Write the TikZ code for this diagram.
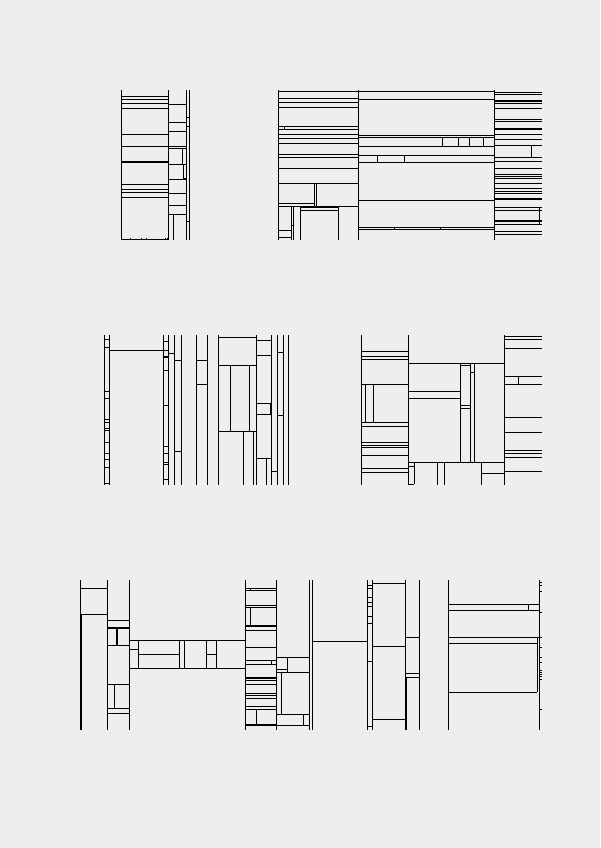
\documentclass[tikz,border=0pt]{standalone}
\usepackage{xcolor}
\usepackage{tikz}
\definecolor{pagebg}{RGB}{238,238,238}
\definecolor{inkline}{RGB}{0,0,0}
\tikzset{
  rule/.style={line width=0.9pt, color=inkline},
  heavy/.style={line width=1.6pt, color=inkline}
}
\begin{document}
\begin{tikzpicture}[x=1pt,y=-1pt]
  \fill[pagebg] (0,0) rectangle (600,848);
  \useasboundingbox (0,0) rectangle (600,848);

  % panel 1
  \foreach \x in {121.3,168.3,186,189} \draw[rule] (\x,90) -- (\x,240);
  \foreach \y in {96.3,99,103.3,108.3,134.3,146.3,189.3,192.3,197.3,239} \draw[rule] (121.3,\y) -- (168.3,\y);
  \foreach \y in {161.7,184.5} \draw[heavy] (121.3,\y) -- (168.3,\y);
  \foreach \x in {130.7,141,146.3,165.7,167.3} \draw[rule] (\x,237.5) -- (\x,239);
  \foreach \y in {104.3,122.3,131.3,146.3,148,164.3,179.3,193.3,205.3,214.3} \draw[rule] (168.3,\y) -- (186,\y);
  \draw[rule] (182.3,148) -- (182.3,164.3);
  \draw[rule] (183.3,164.3) -- (183.3,179.3);
  \draw[heavy] (183.3,179) -- (186,179);
  \draw[rule] (173.3,214.3) -- (173.3,240);
  \foreach \y in {117.3,126.3,221.3} \draw[rule] (186,\y) -- (189,\y);

  % panel 2
  \foreach \x in {278.3,358.3,494.3} \draw[rule] (\x,90) -- (\x,240);
  \foreach \y in {91,98.3,102.3,107.3,126.3,129.3,134.3,138.3,143.3,154.3,157.3,168.3,183.3,206.3} \draw[rule] (278.3,\y) -- (358.3,\y);
  \draw[rule] (284.3,126.3) -- (284.3,129.3);
  \foreach \x in {314.3,316.3} \draw[rule] (\x,183.3) -- (\x,206.3);
  \draw[rule] (278.3,203.3) -- (314.3,203.3);
  \foreach \x in {291.3,293} \draw[rule] (\x,206.3) -- (\x,240);
  \draw[rule] (291.3,225.3) -- (293,225.3);
  \foreach \y in {230.3,237.3} \draw[rule] (278.3,\y) -- (291.3,\y);
  \draw[rule] (300.3,207.3) -- (300.3,240);
  \foreach \y in {207.3,210.3} \draw[rule] (300.3,\y) -- (338.3,\y);
  \draw[rule] (338.3,206.3) -- (338.3,240);
  \foreach \y in {91,99.3,137.3,146.3,155.3,162.3,200.3,227.3,229.3} \draw[rule] (358.3,\y) -- (494.3,\y);
  \draw[heavy] (358.3,135.3) -- (494.3,135.3);
  \foreach \x in {377.3,404.3} \draw[rule] (\x,155.3) -- (\x,162.3);
  \foreach \x in {442.3,458.3,469.3,483.3} \draw[rule] (\x,137.3) -- (\x,146.3);
  \foreach \x in {394.3,440.7} \draw[rule] (\x,227.3) -- (\x,229.3);
  \foreach \y in {92.3,94.3,103.3,119.3,121,139.3,145.7,161,168.3,176.7,178.3,183.3,188.3,191.7,193.7,207.7,210,220,221.7,224.3,231.7,234.3} \draw[rule] (494.3,\y) -- (541.7,\y);
  \foreach \y in {101.3,108.7,129.3,134.3,157.3,174.3,198.7} \draw[heavy] (494.3,\y) -- (541.7,\y);
  \draw[rule] (531.3,145.7) -- (531.3,157.3);
  \draw[rule] (539.3,208) -- (539.3,224.3);

  % panel 3
  \foreach \x in {104.3,109.3} \draw[rule] (\x,335) -- (\x,484.5);
  \draw[rule] (109.3,350.3) -- (163.3,350.3);
  \foreach \y in {339.3,347.3,391.3,398.3,419.3,422,428,430.7,442.7,453.3,459.3,467.3,483.3} \draw[rule] (104.3,\y) -- (109.3,\y);
  \foreach \x in {163.3,168.3,174,181.3,196.3,207.3,218.3,256.3,271.3,277.3,283.3,288.7} \draw[rule] (\x,335) -- (\x,485);
  \foreach \y in {341.3,350.3,370.3,405.3,446.3,453.3,462.3,464,479.3} \draw[rule] (163.3,\y) -- (168.3,\y);
  \draw[heavy] (163.3,356.7) -- (168.3,356.7);
  \draw[rule] (168.3,353.3) -- (174,353.3);
  \foreach \y in {360.3,451.3} \draw[rule] (174,\y) -- (181.3,\y);
  \foreach \y in {360.3,384.3} \draw[rule] (196.3,\y) -- (207.3,\y);
  \foreach \y in {337.3,365.3,431.3} \draw[rule] (218.3,\y) -- (256.3,\y);
  \foreach \x in {230.3,249.3} \draw[rule] (\x,365.3) -- (\x,431.3);
  \foreach \x in {243.7,253.3} \draw[rule] (\x,431.3) -- (\x,485);
  \foreach \y in {340.3,355.3,403.3,414.3,458.3} \draw[rule] (256.3,\y) -- (271.3,\y);
  \draw[heavy] (270.5,403.3) -- (270.5,414.3);
  \draw[rule] (266.3,458.3) -- (266.3,485);
  \draw[rule] (271.3,471.3) -- (277.3,471.3);
  \foreach \y in {352.3,415.3} \draw[rule] (277.3,\y) -- (283.3,\y);

  % panel 4
  \foreach \x in {361.3,408.3,504.3} \draw[rule] (\x,335) -- (\x,485);
  \foreach \y in {351.3,356.3,359.3,384.3,422.3,426.3,442.3,445.3,447.7,455.3,468.3,472.3} \draw[rule] (361.3,\y) -- (408.3,\y);
  \draw[rule] (384.3,446.5) -- (384.3,447.7);
  \foreach \x in {365.3,373.3} \draw[rule] (\x,384.3) -- (\x,422.3);
  \foreach \y in {363.3,462.3} \draw[rule] (408.3,\y) -- (504.3,\y);
  \foreach \x in {460.3,470.3,474.3} \draw[rule] (\x,363.3) -- (\x,462.3);
  \foreach \y in {391.3,398.3} \draw[rule] (408.3,\y) -- (460.3,\y);
  \foreach \y in {365.3,405.7,408.3} \draw[rule] (460.3,\y) -- (470.3,\y);
  \draw[rule] (470.3,372.3) -- (474.3,372.3);
  \draw[rule] (414.3,462.3) -- (414.3,484);
  \foreach \y in {466.3,484} \draw[rule] (408.3,\y) -- (414.3,\y);
  \draw[heavy] (437.5,462.3) -- (437.5,485);
  \foreach \x in {444.3,481.3} \draw[rule] (\x,462.3) -- (\x,485);
  \draw[rule] (481.3,473.3) -- (504.3,473.3);
  \foreach \y in {336.3,339.3,348.3,376.3,384.3,417.3,432.3,450.3,453.3,457.3,471.3} \draw[rule] (504.3,\y) -- (541.7,\y);
  \draw[rule] (518.3,376.3) -- (518.3,384.3);

  % panel 5
  \draw[rule] (80.7,580) -- (80.7,614.3);
  \draw[heavy] (80.7,614.3) -- (80.7,730);
  \foreach \x in {107.3,129.3,245.3,276.3,312.3} \draw[rule] (\x,580) -- (\x,730);
  \draw[heavy] (309.3,580) -- (309.3,730);
  \foreach \y in {588.3,614.3} \draw[rule] (80.7,\y) -- (107.3,\y);
  \foreach \y in {620.3,645.3,684.3,708.3,713.3} \draw[rule] (107.3,\y) -- (129.3,\y);
  \draw[heavy] (107.3,627.7) -- (129.3,627.7);
  \draw[heavy] (117,627.7) -- (117,645.3);
  \draw[rule] (114.3,684.3) -- (114.3,708.3);
  \foreach \y in {640.3,668.3} \draw[rule] (129.3,\y) -- (245.3,\y);
  \foreach \x in {138.3,179.3,184.3,206.3,216.3} \draw[rule] (\x,640.3) -- (\x,668.3);
  \draw[rule] (129.3,649.3) -- (138.3,649.3);
  \draw[rule] (138.3,654.3) -- (179.3,654.3);
  \draw[rule] (206.3,654.3) -- (216.3,654.3);
  \foreach \y in {588.3,590.3,605.3,625,626.7,630.3,647.3,660.3,664.3,680.3,684.3,693.3,695.3,706.3,709.3} \draw[rule] (245.3,\y) -- (276.3,\y);
  \foreach \y in {607.3,678,698.3,725} \draw[heavy] (245.3,\y) -- (276.3,\y);
  \draw[rule] (250.3,588.3) -- (250.3,590.3);
  \draw[rule] (250.3,607.3) -- (250.3,625);
  \draw[rule] (256.3,709.3) -- (256.3,725);
  \draw[rule] (271.3,660.3) -- (271.3,664.3);
  \foreach \y in {657.3,672.3,714.3,725.3} \draw[rule] (276.3,\y) -- (309.3,\y);
  \draw[rule] (276.3,669.3) -- (287.3,669.3);
  \draw[rule] (287.3,657.3) -- (287.3,672.3);
  \draw[rule] (281.3,672.3) -- (281.3,714.3);
  \draw[rule] (303.3,714.3) -- (303.3,725.3);
  \draw[rule] (312.3,641.3) -- (367.3,641.3);

  % panel 6
  \foreach \x in {367.3,372.3,419.3,448.3,539.3} \draw[rule] (\x,580) -- (\x,730);
  \draw[rule] (405.8,580) -- (405.8,677.3);
  \draw[heavy] (405.8,677.3) -- (405.8,730);
  \foreach \y in {585.3,588.3,597.3,602.3,606.3,616.3,623.3,661.3,726.3} \draw[rule] (367.3,\y) -- (372.3,\y);
  \foreach \y in {583.3,646.3,719.3} \draw[rule] (372.3,\y) -- (405.8,\y);
  \foreach \y in {637.3,673.3,677.3} \draw[rule] (405.8,\y) -- (419.3,\y);
  \foreach \y in {604.3,610.3} \draw[rule] (448.3,\y) -- (539.3,\y);
  \draw[rule] (528.3,604.3) -- (528.3,610.3);
  \draw[rule] (448.3,637.3) -- (541.7,637.3);
  \foreach \y in {643.3,692.3} \draw[rule] (448.3,\y) -- (537.3,\y);
  \draw[rule] (537.3,637.3) -- (537.3,692.3);
  \foreach \y in {582.3,585.3,591.3,612.3,647.3,657.3,662.3,670.3,672.3,674.3,676.3,679.3,709.3} \draw[rule] (539.3,\y) -- (541.7,\y);
\end{tikzpicture}
\end{document}
